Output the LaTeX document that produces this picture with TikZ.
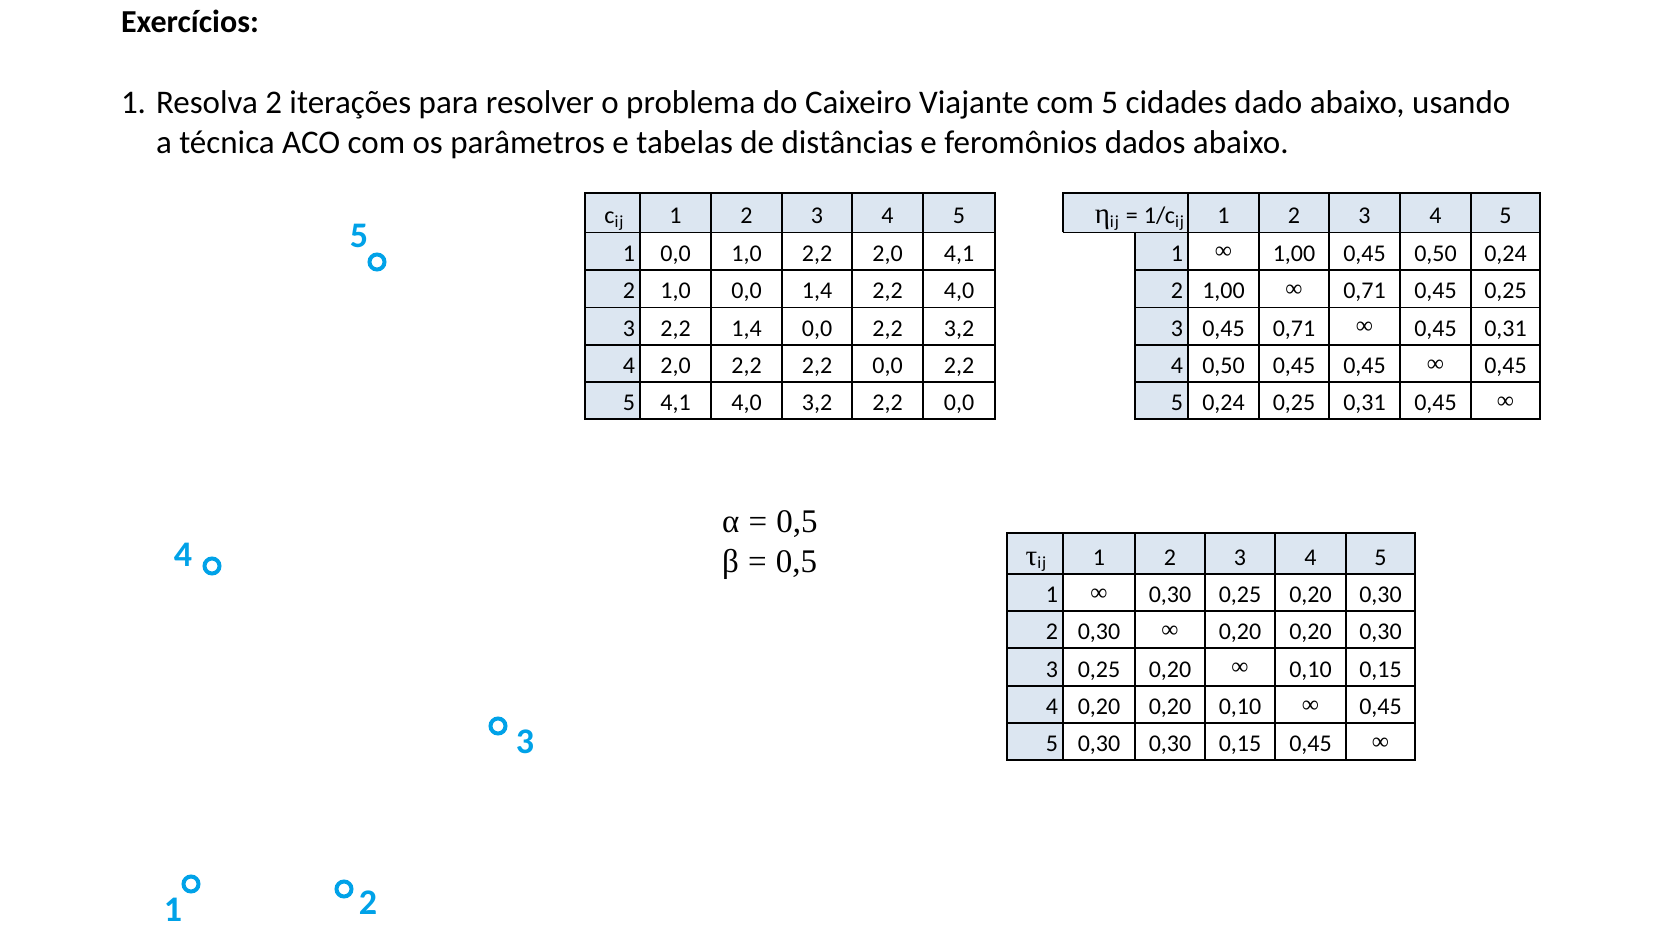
\documentclass[tikz,border=0pt]{standalone}
\usepackage{fontspec}
\setmainfont{Carlito}
\newfontfamily\serif{Liberation Serif}
\definecolor{cityblue}{RGB}{0,162,232}
\definecolor{headfill}{RGB}{220,230,241}
\newcommand\tabfont{\fontsize{24}{24}\selectfont}
\newcommand\infy{\raisebox{2.5pt}{\serif\fontsize{24}{24}\selectfont ∞}}
\newcommand\sbij{\raisebox{-3.5pt}{\fontsize{17}{17}\selectfont i\kern1pt j}}
\newcommand\setcols[6]{\def\cxa{#1}\def\cxb{#2}\def\cxc{#3}\def\cxd{#4}\def\cxe{#5}\def\rlx{#6}}
\newcommand\trow[8]{%
  \node[rlab] (#1-#2-0) at (\rlx,#3) {#2};
  \node[cell] (#1-#2-1) at (\cxa,#3) {#4};
  \node[cell] (#1-#2-2) at (\cxb,#3) {#5};
  \node[cell] (#1-#2-3) at (\cxc,#3) {#6};
  \node[cell] (#1-#2-4) at (\cxd,#3) {#7};
  \node[cell] (#1-#2-5) at (\cxe,#3) {#8};}
\newcommand\thead[2]{%
  \node[cell] (#1-h-1) at (\cxa,#2) {1};
  \node[cell] (#1-h-2) at (\cxb,#2) {2};
  \node[cell] (#1-h-3) at (\cxc,#2) {3};
  \node[cell] (#1-h-4) at (\cxd,#2) {4};
  \node[cell] (#1-h-5) at (\cxe,#2) {5};}
\begin{document}
\begin{tikzpicture}[x=1pt,y=-1pt,
  every node/.style={inner sep=0pt, outer sep=0pt},
  cell/.style={anchor=base, font=\tabfont},
  rlab/.style={anchor=base east, font=\tabfont},
  grid/.style={line width=1.8pt, draw=black},
  frame/.style={line width=2.6pt, draw=black},
  city/.style={circle, draw=cityblue, line width=4pt, minimum size=15pt},
  citylab/.style={text=cityblue, font=\bfseries\fontsize{36}{36}\selectfont, anchor=center},
  body/.style={anchor=base west, font=\fontsize{33}{40}\selectfont},
  param/.style={anchor=base west, font=\serif\fontsize{33}{33}\selectfont},
]
\useasboundingbox[fill=white] (0,0) rectangle (1653,949);

% ---- title and statement
\node[body, font=\bfseries\fontsize{32}{39}\selectfont] (title) at (121,33) {Exercícios:};
\node[body] (num) at (121,114) {1.};
\node[body] (line1) at (156,114) {Resolva 2 iterações para resolver o problema do Caixeiro Viajante com 5 cidades dado abaixo, usando};
\node[body] (line2) at (156,154) {a técnica ACO com os parâmetros e tabelas de distâncias e feromônios dados abaixo.};

% ---- table c_ij
\fill[headfill] (585,193) rectangle (995,232.5);
\fill[headfill] (585,232.5) rectangle (640,419);
\foreach \x in {640,711,782,852,923} \draw[grid] (\x,193) -- (\x,419);
\foreach \y in {232.5,270,307.5,345,382} \draw[grid] (585,\y) -- (995,\y);
\draw[frame] (585,193) rectangle (995,419);
\setcols{675.5}{746.5}{817}{887.5}{959}{635}
\node[cell] (ta-h-0) at (614,224) {c\sbij};
\thead{ta}{224}
\trow{ta}{1}{261.5}{0,0}{1,0}{2,2}{2,0}{4,1}
\trow{ta}{2}{299}{1,0}{0,0}{1,4}{2,2}{4,0}
\trow{ta}{3}{336.5}{2,2}{1,4}{0,0}{2,2}{3,2}
\trow{ta}{4}{373.5}{2,0}{2,2}{2,2}{0,0}{2,2}
\trow{ta}{5}{410.5}{4,1}{4,0}{3,2}{2,2}{0,0}

% ---- table eta_ij
\fill[headfill] (1063,193) rectangle (1540,232.5);
\fill[headfill] (1135,232.5) rectangle (1188,419);
\foreach \x in {1188,1259,1329,1400,1471} \draw[grid] (\x,193) -- (\x,419);
\draw[grid] (1063,232.5) -- (1540,232.5);
\foreach \y in {270,307.5,345,382} \draw[grid] (1135,\y) -- (1540,\y);
\draw[frame] (1063,232.5) -- (1063,193) -- (1540,193) -- (1540,419) -- (1135,419) -- (1135,232.5);
\setcols{1223.5}{1294}{1364.5}{1435.5}{1505.5}{1183}
\node[cell, anchor=base east] (tb-h-0) at (1184,224) {{\serif\fontsize{29}{29}\selectfont η}\sbij\hspace{7pt}=\hspace{6pt}1/c\sbij};
\thead{tb}{224}
\trow{tb}{1}{261.5}{\infy}{1,00}{0,45}{0,50}{0,24}
\trow{tb}{2}{299}{1,00}{\infy}{0,71}{0,45}{0,25}
\trow{tb}{3}{336.5}{0,45}{0,71}{\infy}{0,45}{0,31}
\trow{tb}{4}{373.5}{0,50}{0,45}{0,45}{\infy}{0,45}
\trow{tb}{5}{410.5}{0,24}{0,25}{0,31}{0,45}{\infy}

% ---- table tau_ij
\fill[headfill] (1007,533) rectangle (1415,574);
\fill[headfill] (1007,574) rectangle (1063,760);
\foreach \x in {1063,1135,1205,1275,1346} \draw[grid] (\x,533) -- (\x,760);
\foreach \y in {574,611,648,686,723} \draw[grid] (1007,\y) -- (1415,\y);
\draw[frame] (1007,533) rectangle (1415,760);
\setcols{1099}{1170}{1240}{1310.5}{1380.5}{1058}
\node[cell] (tc-h-0) at (1036,565) {{\serif\fontsize{29}{29}\selectfont τ}\sbij};
\thead{tc}{565}
\trow{tc}{1}{602.5}{\infy}{0,30}{0,25}{0,20}{0,30}
\trow{tc}{2}{639.5}{0,30}{\infy}{0,20}{0,20}{0,30}
\trow{tc}{3}{677}{0,25}{0,20}{\infy}{0,10}{0,15}
\trow{tc}{4}{714.5}{0,20}{0,20}{0,10}{\infy}{0,45}
\trow{tc}{5}{751.5}{0,30}{0,30}{0,15}{0,45}{\infy}

% ---- parameters
\node[param] (alpha) at (722,532) {α\hspace{0.28em}=\hspace{0.28em}0,5};
\node[param] (beta) at (722,572) {β\hspace{0.28em}=\hspace{0.28em}0,5};

% ---- cities
\node[city] (c1) at (191,884) {};
\node[city] (c2) at (344,889) {};
\node[city] (c3) at (498,726) {};
\node[city] (c4) at (212,566) {};
\node[city] (c5) at (377,262) {};
\node[citylab] (l1) at (173,910) {1};
\node[citylab] (l2) at (368,903) {2};
\node[citylab] (l3) at (525,742) {3};
\node[citylab] (l4) at (183,555) {4};
\node[citylab] (l5) at (359,236) {5};
\end{tikzpicture}
\end{document}
